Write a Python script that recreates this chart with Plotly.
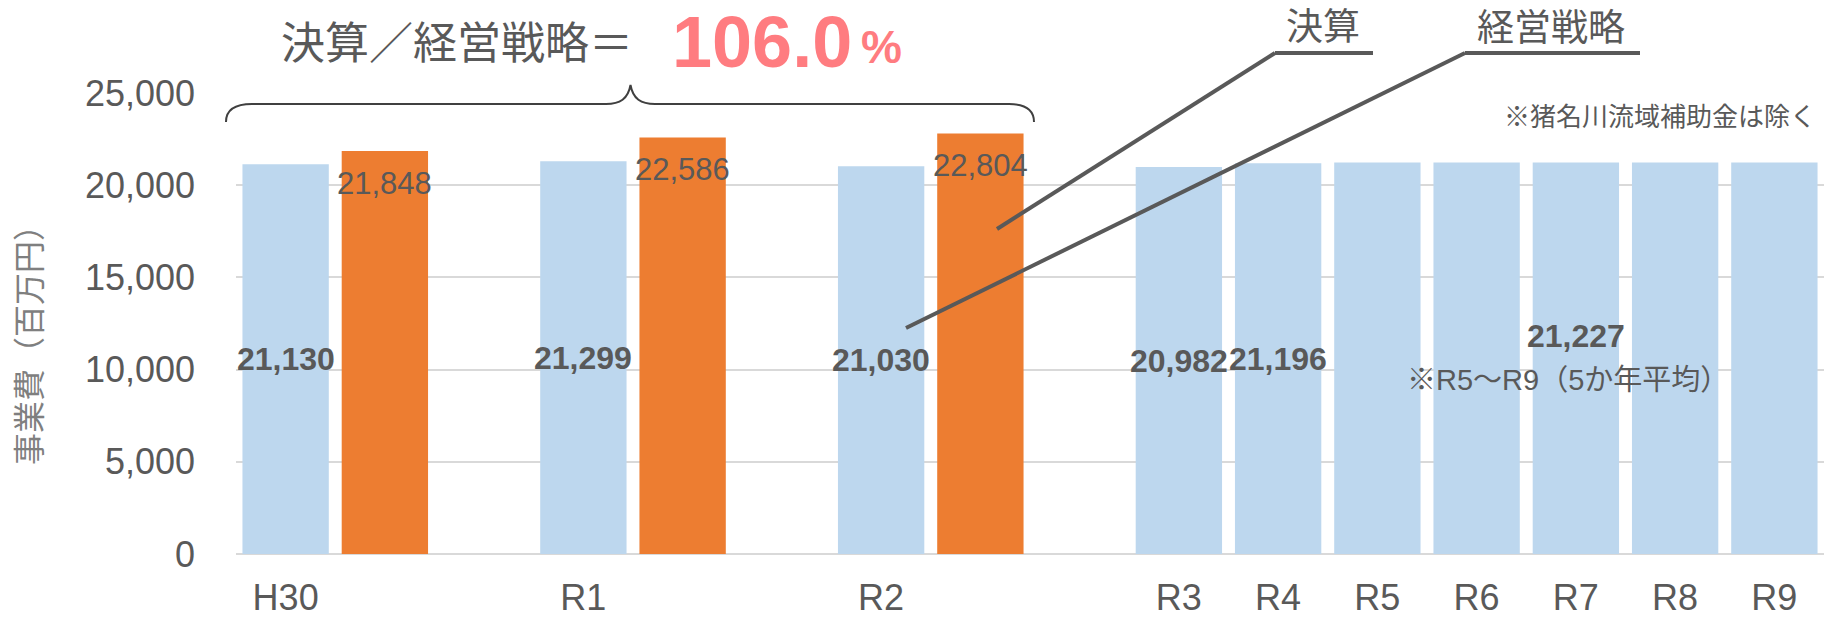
import plotly.graph_objects as go

# ---------------- data ----------------
years = ["H30", "R1", "R2", "R3", "R4", "R5", "R6", "R7", "R8", "R9"]
plan_values = [21130, 21299, 21030, 20982, 21196, 21227, 21227, 21227, 21227, 21227]
plan_labels = ["21,130", "21,299", "21,030", "20,982", "21,196"]
actual_years = ["H30", "R1", "R2"]
actual_values = [21848, 22586, 22804]
actual_labels = ["21,848", "22,586", "22,804"]
avg_year = "R7"
avg_value = 21227
avg_label = "21,227"
avg_note = "※R5～R9（5か年平均）"
title_text = "決算／経営戦略＝"
ratio_text = "106.0"
pct_text = "%"
top_note = "※猪名川流域補助金は除く"
y_title = "事業費（百万円）"
name_actual = "決算"
name_plan = "経営戦略"
y_ticks = [0, 5000, 10000, 15000, 20000, 25000]

# ---------------- layout constants ----------------
W, H = 1836, 619
L, R, T, B = 236, 12, 93, 65
BLUE = "#BDD7EE"
ORANGE = "#ED7D31"
TXT = "#595959"
GRID = "#D9D9D9"
FONT = "Liberation Sans, Arial, Noto Sans CJK JP, sans-serif"


def px(x):
    return (x - L) / (W - L - R)


def py(y):
    return (H - B - y) / (H - T - B)


# slot positions: years with actual values take 3 slots (plan, actual, gap)
pos = {}
s = 0
for yr in years:
    pos[yr] = s
    s += 3 if yr in actual_years else 1
n_slots = s

plan_x = [pos[yr] for yr in years]
actual_x = [pos[yr] + 1 for yr in actual_years]

fig = go.Figure()
fig.add_trace(go.Bar(x=plan_x, y=plan_values, width=0.87, marker=dict(color=BLUE, line=dict(width=0)),
                     name=name_plan, hoverinfo="skip"))
fig.add_trace(go.Bar(x=actual_x, y=actual_values, width=0.87, marker=dict(color=ORANGE, line=dict(width=0)),
                     name=name_actual, hoverinfo="skip"))

ann = []
# blue labels (bold, centered)
for yr, lab in zip(years, plan_labels):
    v = plan_values[years.index(yr)]
    ann.append(dict(x=pos[yr], y=v / 2, xref="x", yref="y", text="<b>" + lab + "</b>", showarrow=False,
                    font=dict(size=32, color=TXT, family=FONT), xanchor="center", yanchor="middle"))
# average label
ann.append(dict(x=pos[avg_year], y=avg_value / 2, xref="x", yref="y", text="<b>" + avg_label + "</b>",
                showarrow=False, yshift=22, font=dict(size=32, color=TXT, family=FONT),
                xanchor="center", yanchor="middle"))
ann.append(dict(x=pos[avg_year], y=avg_value / 2, xref="x", yref="y", text=avg_note, showarrow=False,
                yshift=-22, xshift=-8, font=dict(size=29, color=TXT, family=FONT),
                xanchor="center", yanchor="middle"))
# orange labels (inside end)
for x, v, lab in zip(actual_x, actual_values, actual_labels):
    ann.append(dict(x=x, y=v, xref="x", yref="y", text=lab, showarrow=False, yshift=-32,
                    font=dict(size=31, color=TXT, family=FONT), xanchor="center", yanchor="middle"))

# y axis title
ann.append(dict(x=px(30), y=py(337), xref="paper", yref="paper", text=y_title, textangle=-90,
                showarrow=False, font=dict(size=32, color="#7F7F7F", family=FONT),
                xanchor="center", yanchor="middle"))
# title
ann.append(dict(x=px(457), y=py(44), xref="paper", yref="paper", text=title_text, showarrow=False,
                font=dict(size=44, color=TXT, family=FONT), xanchor="center", yanchor="middle"))
ann.append(dict(x=px(761.5), y=py(42), xref="paper", yref="paper", text="<b>" + ratio_text + "</b>",
                showarrow=False, font=dict(size=72, color="#FF7C80", family=FONT),
                xanchor="center", yanchor="middle"))
ann.append(dict(x=px(881), y=py(47), xref="paper", yref="paper", text="<b>" + pct_text + "</b>",
                showarrow=False, font=dict(size=46, color="#FF7C80", family=FONT),
                xanchor="center", yanchor="middle"))
# leader labels
ann.append(dict(x=px(1323), y=py(27.5), xref="paper", yref="paper", text=name_actual, showarrow=False,
                font=dict(size=37, color=TXT, family=FONT), xanchor="center", yanchor="middle"))
ann.append(dict(x=px(1551), y=py(28), xref="paper", yref="paper", text=name_plan, showarrow=False,
                font=dict(size=37, color=TXT, family=FONT), xanchor="center", yanchor="middle"))
# note
ann.append(dict(x=px(1818), y=py(117), xref="paper", yref="paper", text=top_note, showarrow=False,
                font=dict(size=26, color=TXT, family=FONT), xanchor="right", yanchor="middle"))

shapes = []
LINE = "#595959"
# leader lines
for pts in [[(1373, 53), (1275, 53), (997, 229)], [(1640, 53), (1465, 53), (906, 328)]]:
    for (x0, y0), (x1, y1) in zip(pts[:-1], pts[1:]):
        shapes.append(dict(type="line", xref="paper", yref="paper", x0=px(x0), y0=py(y0), x1=px(x1), y1=py(y1),
                           line=dict(color=LINE, width=4)))

# curly brace
brace_pts = [
    ("M", [(226, 122)]),
    ("C", [(226, 109), (236, 104), (252, 104)]),
    ("L", [(606, 104)]),
    ("C", [(620, 104), (628, 99), (630.5, 85)]),
    ("C", [(633, 99), (641, 104), (655, 104)]),
    ("L", [(1009, 104)]),
    ("C", [(1025, 104), (1034, 109), (1034, 122)]),
]
path = ""
for cmd, pl in brace_pts:
    path += cmd + " " + " ".join(f"{px(a):.5f},{py(b):.5f}" for a, b in pl) + " "
shapes.append(dict(type="path", xref="paper", yref="paper", path=path.strip(),
                   line=dict(color="#404040", width=2)))

fig.update_layout(
    template="none",
    width=W, height=H,
    margin=dict(l=L, r=R, t=T, b=B, pad=0, autoexpand=False),
    plot_bgcolor="white", paper_bgcolor="white",
    showlegend=False,
    barmode="overlay",
    annotations=ann,
    shapes=shapes,
    font=dict(family=FONT, color=TXT),
    xaxis=dict(range=[-0.5, n_slots - 0.5], tickmode="array", tickvals=plan_x, ticktext=years,
               automargin=False, showgrid=False, zeroline=False, showline=False, ticks="",
               tickfont=dict(size=36, color=TXT, family=FONT), ticklabelstandoff=19),
    yaxis=dict(range=[0, 25000], tickmode="array", tickvals=y_ticks, tickformat=",d", automargin=False,
               showgrid=True, gridcolor=GRID, gridwidth=2, zeroline=True, zerolinecolor=GRID, zerolinewidth=2,
               showline=False, ticks="", tickfont=dict(size=36, color=TXT, family=FONT),
               ticklabelstandoff=40),
)

fig.write_html("out.html")
